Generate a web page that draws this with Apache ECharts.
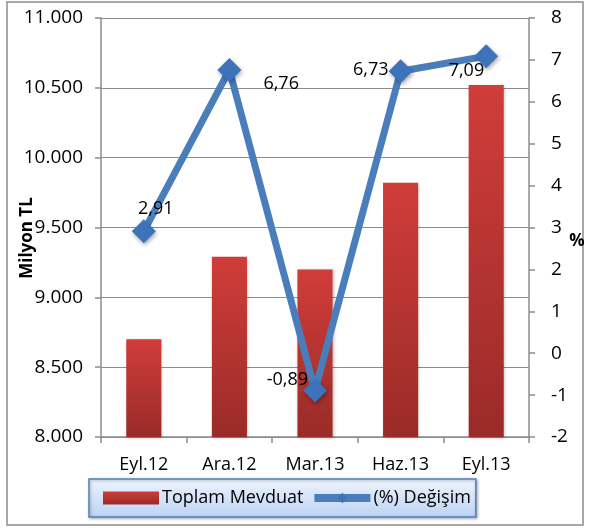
<!DOCTYPE html>
<html>
<head>
<meta charset="utf-8">
<script src="https://cdn.jsdelivr.net/npm/echarts@6/dist/echarts.min.js"></script>
<style>
  html, body { margin: 0; padding: 0; background: #fff; }
  #chart { width: 590px; height: 529px; }
</style>
</head>
<body>
<div id="chart"></div>
<script>
  // veriler
  var donemler = ['Eyl.12', 'Ara.12', 'Mar.13', 'Haz.13', 'Eyl.13'];
  var toplamMevduat = [8700, 9290, 9200, 9820, 10520];
  var degisim = [2.91, 6.76, -0.89, 6.73, 7.09];
  var etiketYerleri = ['top', 'right', 'left', 'left', 'left'];
  var etiketKaymalari = [[12, 4], [17, 14], [10, -11], [5, -1], [15, 15]];

  var yaziTipi = '"Open Sans", "Liberation Sans", sans-serif';
  var yaziBoyu = 18;

  var chart = echarts.init(document.getElementById('chart'));

  var option = {
    animation: false,
    textStyle: { fontFamily: yaziTipi },
    graphic: [{
      type: 'rect',
      shape: { x: 7, y: 2, width: 576, height: 523 },
      style: { fill: 'none', stroke: '#8c8c8c', lineWidth: 1.5 }
    }, {
      // sol eksen adı
      type: 'text',
      x: 27,
      y: 238,
      rotation: Math.PI / 2,
      style: {
        text: 'Milyon TL', fill: '#000', font: 'bold 17px ' + yaziTipi,
        align: 'center', verticalAlign: 'middle'
      }
    }, {
      // sağ eksen adı
      type: 'text',
      x: 577,
      y: 241,
      style: {
        text: '%', fill: '#000', font: 'bold 17px ' + yaziTipi,
        align: 'center', verticalAlign: 'middle'
      }
    }],
    grid: { left: 101, right: 61, top: 18, bottom: 92, outerBoundsMode: 'none', containLabel: false },
    legend: {
      bottom: 12,
      left: 89,
      padding: [10, 5, 10, 14],
      itemGap: 7,
      itemWidth: 56,
      itemHeight: 13,
      borderColor: '#4f81bd',
      borderWidth: 1.5,
      backgroundColor: {
        type: 'linear', x: 0, y: 0, x2: 0, y2: 1,
        colorStops: [{ offset: 0, color: '#eef4fd' }, { offset: 1, color: '#bcd3f3' }]
      },
      shadowColor: 'rgba(0,0,0,0.3)',
      shadowBlur: 3,
      shadowOffsetX: 1,
      shadowOffsetY: 1,
      textStyle: { fontSize: yaziBoyu, color: '#000', fontFamily: yaziTipi, padding: [0, 0, 0, -2] },
      data: [
        { name: 'Toplam Mevduat', icon: 'rect' },
        { name: '(%) Değişim', lineStyle: { width: 8, color: '#4a7ebb' } }
      ]
    },
    xAxis: {
      type: 'category',
      data: donemler,
      axisLine: { onZero: false, lineStyle: { color: '#8c8c8c', width: 1.5 } },
      axisTick: { show: true, alignWithLabel: false, length: 6, lineStyle: { color: '#8c8c8c', width: 1.5 } },
      axisLabel: { color: '#000', fontSize: yaziBoyu, margin: 19, fontFamily: yaziTipi }
    },
    yAxis: [{
      type: 'value',
      min: 8000,
      max: 11000,
      interval: 500,
      axisLine: { show: true, lineStyle: { color: '#8c8c8c', width: 1.5 } },
      axisTick: { show: true, length: 6, lineStyle: { color: '#8c8c8c', width: 1.5 } },
      splitLine: { lineStyle: { color: '#8c8c8c', width: 1.2 } },
      axisLabel: {
        color: '#000', fontSize: 19, margin: 18, fontFamily: yaziTipi,
        formatter: function (v) { return (v / 1000).toFixed(3); }
      }
    }, {
      type: 'value',
      min: -2,
      max: 8,
      interval: 1,
      position: 'right',
      axisLine: { show: true, lineStyle: { color: '#8c8c8c', width: 1.5 } },
      axisTick: { show: true, length: 6, lineStyle: { color: '#8c8c8c', width: 1.5 } },
      splitLine: { show: false },
      axisLabel: { color: '#000', fontSize: 19, margin: 22, fontFamily: yaziTipi }
    }],
    series: [{
      name: 'Toplam Mevduat',
      type: 'bar',
      yAxisIndex: 0,
      barWidth: '41%',
      data: toplamMevduat,
      itemStyle: {
        color: {
          type: 'linear', x: 0, y: 0, x2: 0, y2: 1,
          colorStops: [{ offset: 0, color: '#d03d3a' }, { offset: 1, color: '#9a2b28' }]
        },
        shadowColor: 'rgba(0,0,0,0.25)',
        shadowBlur: 3,
        shadowOffsetX: 1,
        shadowOffsetY: 1
      }
    }, {
      name: '(%) Değişim',
      type: 'line',
      yAxisIndex: 1,
      symbol: 'diamond',
      symbolSize: 24,
      lineStyle: { color: '#4a7ebb', width: 7 },
      itemStyle: {
        color: '#3d74b9',
        shadowColor: 'rgba(0,0,0,0.35)',
        shadowBlur: 4,
        shadowOffsetX: 1,
        shadowOffsetY: 2
      },
      data: degisim.map(function (v, i) {
        return {
          value: v,
          label: { position: etiketYerleri[i], offset: etiketKaymalari[i] }
        };
      }),
      label: {
        show: true,
        color: '#000',
        fontSize: yaziBoyu,
        fontFamily: yaziTipi,
        distance: 5,
        formatter: function (p) { return p.value.toFixed(2).replace('.', ','); }
      }
    }]
  };

  chart.setOption(option);
</script>
</body>
</html>
